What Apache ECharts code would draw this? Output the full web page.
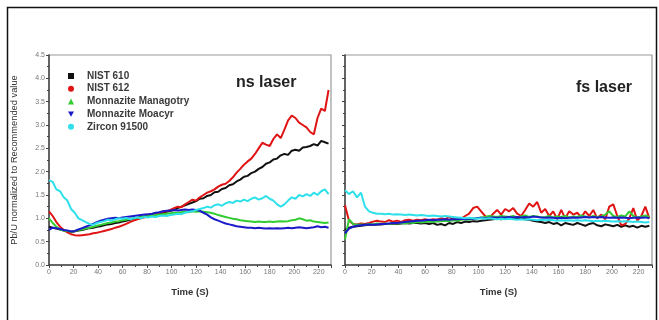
<!DOCTYPE html>
<html><head><meta charset="utf-8">
<script src="https://cdn.jsdelivr.net/npm/echarts@6/dist/echarts.min.js"></script>
<style>html,body{margin:0;padding:0;background:#fff}#c{width:659px;height:320px}</style>
</head><body><div id="c"></div>
<script>
const seriesNames = ['NIST 610','NIST 612','Monnazite Managotry','Monnazite Moacyr','Zircon 91500'];
const panelTitles = ['ns laser','fs laser'];
const yTicks = [0,0.5,1,1.5,2,2.5,3,3.5,4,4.5];
const times = [0,3,6,9,12,15,18,21,24,27,30,33,36,39,42,45,48,51,54,57,60,63,66,69,72,75,78,81,84,87,90,93,96,99,102,105,108,111,114,117,120,123,126,129,132,135,138,141,144,147,150,153,156,159,162,165,168,171,174,177,180,183,186,189,192,195,198,201,204,207,210,213,216,219,222,225,228];

const nsNist610 = [0.82,0.80,0.78,0.76,0.74,0.72,0.71,0.72,0.74,0.75,
0.77,0.79,0.80,0.82,0.83,0.85,0.87,0.88,0.90,0.91,
0.93,0.95,0.97,0.99,1.01,1.03,1.04,1.06,1.07,1.09,
1.10,1.12,1.14,1.16,1.18,1.22,1.25,1.28,1.31,1.34,
1.37,1.42,1.43,1.48,1.50,1.56,1.57,1.63,1.65,1.71,
1.73,1.79,1.83,1.89,1.91,1.97,2.00,2.06,2.10,2.17,
2.20,2.26,2.28,2.35,2.38,2.36,2.45,2.47,2.45,2.52,
2.53,2.55,2.59,2.56,2.66,2.63,2.60];
const nsNist612 = [1.15,1.05,0.92,0.82,0.75,0.70,0.66,0.64,0.63,0.64,
0.65,0.66,0.68,0.69,0.71,0.73,0.75,0.77,0.80,0.82,
0.85,0.88,0.92,0.95,0.98,1.00,1.02,1.04,1.06,1.08,
1.12,1.14,1.15,1.18,1.22,1.25,1.24,1.30,1.35,1.40,
1.38,1.45,1.50,1.55,1.58,1.62,1.68,1.72,1.74,1.80,
1.88,1.98,2.06,2.15,2.22,2.28,2.38,2.50,2.62,2.58,
2.55,2.70,2.80,2.72,2.90,3.10,3.20,3.15,3.05,3.00,
2.95,2.85,2.80,3.15,3.35,3.30,3.75];
const nsManagotry = [1.00,0.90,0.82,0.76,0.74,0.73,0.72,0.73,0.75,0.76,
0.78,0.80,0.82,0.84,0.86,0.88,0.90,0.91,0.93,0.94,
0.96,0.97,0.99,1.00,1.01,1.03,1.04,1.05,1.06,1.07,
1.08,1.09,1.10,1.11,1.12,1.12,1.13,1.14,1.13,1.15,
1.14,1.15,1.14,1.13,1.12,1.10,1.07,1.05,1.03,1.01,
0.99,0.98,0.96,0.95,0.94,0.93,0.92,0.93,0.92,0.92,
0.93,0.92,0.93,0.94,0.93,0.94,0.96,0.97,1.00,0.98,
0.95,0.96,0.93,0.92,0.91,0.90,0.91];
const nsMoacyr = [0.75,0.80,0.79,0.77,0.75,0.74,0.72,0.73,0.76,0.79,
0.82,0.85,0.88,0.92,0.95,0.97,0.99,1.00,1.01,1.00,
1.02,1.03,1.04,1.05,1.06,1.07,1.08,1.09,1.10,1.12,
1.13,1.15,1.16,1.17,1.18,1.17,1.18,1.19,1.18,1.19,
1.18,1.16,1.12,1.08,1.02,0.98,0.95,0.92,0.89,0.87,
0.85,0.83,0.82,0.81,0.80,0.80,0.79,0.80,0.79,0.78,
0.79,0.78,0.79,0.78,0.79,0.80,0.79,0.80,0.81,0.80,
0.79,0.80,0.81,0.83,0.81,0.82,0.80];
const nsZircon = [1.82,1.78,1.62,1.58,1.45,1.38,1.20,1.12,1.00,0.96,
0.92,0.88,0.86,0.90,0.92,0.94,0.97,0.95,0.98,1.00,
0.99,1.01,0.98,1.00,1.02,1.00,1.03,1.02,1.04,1.03,
1.05,1.06,1.05,1.07,1.08,1.10,1.09,1.12,1.14,1.15,
1.18,1.20,1.22,1.25,1.23,1.28,1.30,1.27,1.32,1.35,
1.33,1.38,1.36,1.40,1.37,1.42,1.45,1.40,1.43,1.48,
1.42,1.38,1.30,1.25,1.30,1.38,1.45,1.42,1.50,1.47,
1.52,1.48,1.55,1.50,1.58,1.62,1.52];

const fsNist610 = [0.75,0.80,0.82,0.83,0.84,0.85,0.86,0.86,0.87,0.87,
0.88,0.88,0.89,0.88,0.89,0.90,0.89,0.90,0.90,0.89,
0.90,0.88,0.90,0.86,0.88,0.85,0.90,0.88,0.92,0.90,
0.93,0.92,0.94,0.93,0.95,0.96,0.97,0.98,0.99,0.98,
1.00,0.99,1.00,0.99,1.00,0.98,0.97,0.95,0.93,0.92,
0.90,0.92,0.88,0.90,0.85,0.90,0.88,0.86,0.90,0.87,
0.84,0.88,0.90,0.85,0.83,0.87,0.85,0.83,0.86,0.82,
0.85,0.82,0.84,0.80,0.84,0.82,0.84];
const fsNist612 = [1.28,0.95,0.88,0.87,0.89,0.88,0.90,0.93,0.95,0.93,
0.92,0.96,0.93,0.95,0.92,0.96,0.97,0.95,0.97,0.96,
0.98,0.96,0.98,0.97,1.00,0.98,1.03,0.98,1.00,0.99,
1.05,1.10,1.22,1.25,1.15,1.05,1.00,1.10,1.18,1.08,
1.20,1.15,1.22,1.10,1.05,1.18,1.32,1.25,1.35,1.12,
1.20,1.05,1.15,0.98,1.18,1.00,1.15,1.08,1.12,1.02,
1.15,1.05,1.18,1.00,1.08,0.98,1.25,1.30,1.05,0.85,
0.88,1.00,1.22,0.95,1.05,1.25,1.00];
const fsManagotry = [0.55,0.98,0.88,0.86,0.87,0.86,0.88,0.87,0.89,0.88,
0.89,0.88,0.90,0.89,0.90,0.89,0.91,0.90,0.92,0.91,
0.92,0.93,0.92,0.93,0.94,0.95,0.94,0.96,0.95,0.97,
0.98,0.97,0.99,1.00,1.02,1.03,1.05,1.04,1.03,1.05,
1.04,1.03,1.05,1.02,1.04,1.06,1.03,1.05,1.04,1.02,
1.03,1.05,1.02,1.04,1.03,1.05,1.02,1.04,1.03,1.06,
1.04,1.02,1.05,1.03,1.04,1.08,1.15,1.05,1.03,1.06,
1.04,1.15,1.05,1.02,1.04,1.06,1.03];
const fsMoacyr = [0.68,0.78,0.82,0.84,0.85,0.86,0.87,0.86,0.87,0.88,
0.88,0.89,0.90,0.90,0.91,0.92,0.93,0.94,0.95,0.95,
0.96,0.97,0.96,0.97,0.97,0.98,0.97,0.98,0.98,0.99,
0.98,0.99,0.99,1.00,1.01,1.00,1.01,1.02,1.01,1.02,
1.02,1.03,1.02,1.03,1.02,1.03,1.02,1.04,1.03,1.02,
1.01,1.02,1.01,1.00,1.01,1.00,1.01,1.02,1.01,1.02,
1.03,1.02,1.03,1.02,1.03,1.02,1.01,1.02,1.01,1.02,
1.01,1.00,1.01,1.02,1.01,1.02,1.00];
const fsZircon = [1.60,1.52,1.58,1.45,1.55,1.25,1.15,1.12,1.10,1.10,
1.09,1.10,1.08,1.09,1.08,1.07,1.08,1.07,1.06,1.07,
1.06,1.05,1.06,1.05,1.04,1.05,1.04,1.03,1.02,1.01,
1.00,1.01,1.00,0.99,1.00,0.99,1.00,0.99,0.98,0.99,
0.98,0.99,0.98,0.97,0.98,0.97,0.98,0.97,0.96,0.97,
0.96,0.97,0.96,0.95,0.96,0.95,0.96,0.95,0.96,0.95,
0.96,0.95,0.94,0.95,0.94,0.95,0.94,0.93,0.94,0.93,
0.94,0.93,0.92,0.93,0.92,0.91,0.92];

const colors = ['#111111','#e01414','#33cc33','#1a1ac8','#2ee0ea'];
const legendIcons = ['rect','circle','triangle','path://M0,0 L10,0 L5,9 Z','circle'];
const nsData = [nsNist610, nsNist612, nsManagotry, nsMoacyr, nsZircon];
const fsData = [fsNist610, fsNist612, fsManagotry, fsMoacyr, fsZircon];

const font = 'Liberation Sans, Arial, sans-serif';
function pairs(arr){ return times.map((t,i)=>[t, arr[i]]); }

function xAx(gi){
  return {
    type:'value', gridIndex:gi, min:0, max:230, interval:20,
    name:'Time (S)', nameLocation:'middle', nameGap:22,
    nameTextStyle:{fontFamily:font, fontSize:9.5, fontWeight:'bold', color:'#333'},
    axisLine:{show:true, onZero:false, lineStyle:{color:'#444', width:1.5}},
    axisTick:{show:true, length:3, lineStyle:{color:'#444'}},
    minorTick:{show:true, splitNumber:2, length:2, lineStyle:{color:'#444'}},
    axisLabel:{fontFamily:font, fontSize:7, color:'#777', margin:4, showMaxLabel:false},
    splitLine:{show:false}
  };
}
function yAx(gi, labels){
  return {
    type:'value', gridIndex:gi, min:yTicks[0], max:yTicks[yTicks.length-1], interval:0.5,
    name: labels ? 'Pb/U normalized to Recommended value' : '',
    nameLocation:'middle', nameGap:30,
    nameTextStyle:{fontFamily:font, fontSize:9.3, color:'#333'},
    axisLine:{show:true, lineStyle:{color:'#444', width:1.5}},
    axisTick:{show:true, length:3, lineStyle:{color:'#444'}},
    minorTick:{show:true, splitNumber:2, length:2, lineStyle:{color:'#444'}},
    axisLabel:{show:labels, fontFamily:font, fontSize:7, color:'#777', margin:4,
      formatter:v=>v.toFixed(1)},
    splitLine:{show:false}
  };
}

const series = [];
nsData.forEach((d,i)=>series.push({name:seriesNames[i], type:'line', xAxisIndex:0, yAxisIndex:0,
  data:pairs(d), showSymbol:false, lineStyle:{width:2, color:colors[i]}, itemStyle:{color:colors[i]}, animation:false}));
fsData.forEach((d,i)=>series.push({name:seriesNames[i], type:'line', xAxisIndex:1, yAxisIndex:1,
  data:pairs(d), showSymbol:false, lineStyle:{width:2, color:colors[i]}, itemStyle:{color:colors[i]}, animation:false}));

const chart = echarts.init(document.getElementById('c'), null, {renderer:'canvas'});
chart.setOption({
  backgroundColor:'#fff',
  animation:false,
  grid:[
    {left:49, top:55, width:282, height:210, show:true, borderColor:'#999', borderWidth:1.2},
    {left:345, top:55, width:307, height:210, show:true, borderColor:'#999', borderWidth:1.2}
  ],
  xAxis:[xAx(0), xAx(1)],
  yAxis:[yAx(0,true), yAx(1,false)],
  title:[
    {text:panelTitles[0], left:231, top:70, textStyle:{fontFamily:font, fontSize:16, fontWeight:'bold', color:'#222'}},
    {text:panelTitles[1], left:571, top:75, textStyle:{fontFamily:font, fontSize:16, fontWeight:'bold', color:'#222'}}
  ],
  legend:{
    orient:'vertical', left:63, top:66, itemWidth:6, itemHeight:6, itemGap:2.7,
    data: seriesNames.map((n,i)=>({name:n, icon:legendIcons[i]})),
    textStyle:{fontFamily:font, fontSize:10, fontWeight:'bold', color:'#3a3a3a', lineHeight:10, padding:[0,0,0,8]},
    selectedMode:false
  },
  graphic:[
    {type:'rect', left:5, top:5, shape:{width:649, height:330}, style:{fill:'none', stroke:'#111', lineWidth:1.5}, silent:true}
  ],
  series: series
});
</script>
</body></html>
